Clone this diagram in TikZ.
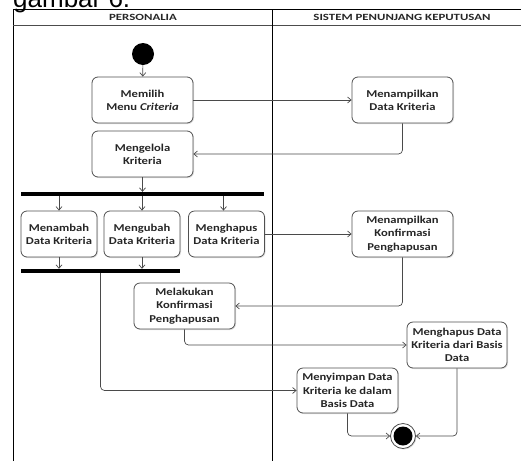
\documentclass[tikz,border=0pt]{standalone}
\usepackage{fontspec}
\setmainfont{Carlito}[FakeStretch=1.2]
\newfontfamily\headfont{Carlito}[FakeStretch=1.35]
\newfontfamily\captionfont{Liberation Sans}
\usetikzlibrary{arrows.meta,shadows,calc}

\definecolor{linegray}{HTML}{4A4A4A}
\definecolor{boxline}{HTML}{505050}

\tikzset{
  actbox/.style={draw=boxline, line width=0.8pt, rounded corners=6pt, fill=white,
    align=center, inner sep=1pt, text=black!85,
    font=\bfseries\fontsize{10.5}{13.3}\selectfont,
    drop shadow={opacity=0.25, shadow xshift=1pt, shadow yshift=-1pt}},
  bigbox/.style={actbox, minimum width=101pt, minimum height=46pt},
  smallbox/.style={actbox, minimum width=76pt, minimum height=46pt},
  syncbar/.style={fill=black, draw=none, inner sep=0pt},
  flow/.style={draw=linegray, line width=0.7pt, rounded corners=4pt,
    -{Straight Barb[length=3.5pt, width=6pt]}},
  lane/.style={draw=black, line width=0.8pt},
  lanehead/.style={font=\headfont\bfseries\fontsize{9.5}{11}\selectfont, text=black!85}
}

\begin{document}
\begin{tikzpicture}[x=1pt, y=-1pt]
  \useasboundingbox (0,0) rectangle (521,461);
  \clip (0,0) rectangle (521,461);

  % figure caption running off the top edge
  \node[anchor=base west, inner sep=0pt, font=\captionfont\fontsize{26}{30}\selectfont]
    (caption) at (13,7) {gambar 6.};

  % swimlane frame
  \draw[lane] (13,461) -- (13,9) -- (521,9);
  \draw[lane, draw=black!70, line width=1pt] (13,25) -- (521,25);
  \draw[lane] (272,9) -- (272,461);
  \node[lanehead] (laneA) at (143,17) {PERSONALIA};
  \node[lanehead] (laneB) at (402,17) {SISTEM PENUNJANG KEPUTUSAN};

  % initial and final states
  \node[circle, fill=black, minimum size=22pt, inner sep=0pt] (start) at (143,54) {};
  \node[circle, draw=linegray, line width=0.8pt, fill=white, minimum size=25pt, inner sep=0pt,
        drop shadow={opacity=0.25, shadow xshift=1pt, shadow yshift=-1pt}] (end) at (403,436) {};
  \node[circle, fill=black, minimum size=19pt, inner sep=0pt] (endcore) at (end) {};

  % activities
  \node[bigbox] (memilih) at (142.5,100) {Memilih\\Menu \textit{Criteria}};
  \node[bigbox] (tampil) at (402.5,100) {Menampilkan\\Data Kriteria};
  \node[bigbox] (kelola) at (142.5,154) {Mengelola\\Kriteria};
  \node[smallbox] (tambah) at (59,234) {Menambah\\Data Kriteria};
  \node[smallbox] (ubah) at (142,234) {Mengubah\\Data Kriteria};
  \node[smallbox] (hapus) at (226.5,234) {Menghapus\\Data Kriteria};
  \node[bigbox] (konf) at (402.5,234) {Menampilkan\\Konfirmasi\\Penghapusan};
  \node[bigbox] (lakukan) at (184.5,306) {Melakukan\\Konfirmasi\\Penghapusan};
  \node[bigbox, minimum width=100pt] (hapusdb) at (457,345) {Menghapus Data\\Kriteria dari Basis\\Data};
  \node[bigbox, minimum height=45pt] (simpan) at (347.5,390.5) {Menyimpan Data\\Kriteria ke dalam\\Basis Data};

  % fork and join bars
  \node[syncbar, minimum width=243pt, minimum height=4pt] (fork) at (142.5,194) {};
  \node[syncbar, minimum width=159pt, minimum height=4pt] (join) at (100.5,271) {};

  % control flow
  \draw[flow] (start) -- (memilih);
  \draw[flow] (memilih) -- (tampil);
  \draw[flow] (tampil.south) |- (kelola.east);
  \draw[flow] (kelola.south) -- (kelola.south |- fork.north);
  \draw[flow] (tambah.north |- fork.south) -- (tambah.north);
  \draw[flow] (ubah.north |- fork.south) -- (ubah.north);
  \draw[flow] ([xshift=-3pt]hapus.north |- fork.south) -- ([xshift=-3pt]hapus.north);
  \draw[flow] (hapus) -- (konf);
  \draw[flow] (tambah.south) -- (tambah.south |- join.north);
  \draw[flow] (ubah.south) -- (ubah.south |- join.north);
  \draw[flow] (konf.south) |- (lakukan.east);
  \draw[flow] (join.south) |- (simpan.west);
  \draw[flow] (lakukan.south) |- (hapusdb.west);
  \draw[flow] (simpan.south) |- (end.west);
  \draw[flow] (hapusdb.south) |- (end.east);
\end{tikzpicture}
\end{document}
